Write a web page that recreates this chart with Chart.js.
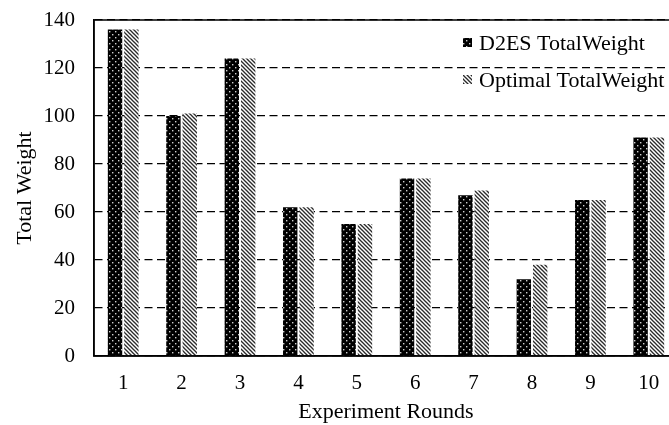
<!DOCTYPE html>
<html>
<head>
<meta charset="utf-8">
<script src="https://cdn.jsdelivr.net/npm/chart.js@4"></script>
<style>
    html, body { margin: 0; padding: 0; background: #fff; overflow: hidden; }
    #wrap { width: 669px; height: 425px; overflow: hidden; }
</style>
</head>
<body>
<div id="wrap"><canvas id="barChart" width="690" height="425"></canvas></div>
<script>
// data
const rounds = ['1', '2', '3', '4', '5', '6', '7', '8', '9', '10'];
const d2esWeight = [136, 100, 124, 62, 55, 74, 67, 32, 65, 91];
const optimalWeight = [136, 101, 124, 62, 55, 74, 69, 38, 65, 91];
const seriesNames = ['D2ES TotalWeight', 'Optimal TotalWeight'];
const yTicks = [0, 20, 40, 60, 80, 100, 120, 140];

const serif = "'Liberation Serif', 'Times New Roman', serif";

// black with white dots
function dotPattern() {
    const c = document.createElement('canvas');
    c.width = 6; c.height = 6;
    const g = c.getContext('2d');
    g.fillStyle = '#000';
    g.fillRect(0, 0, 6, 6);
    g.fillStyle = '#d0d0d0';
    g.fillRect(1, 1, 1.4, 1.4);
    g.fillRect(4, 4, 1.4, 1.4);
    return g.createPattern(c, 'repeat');
}

// white with diagonal lines
function hatchPattern() {
    const c = document.createElement('canvas');
    c.width = 4; c.height = 4;
    const g = c.getContext('2d');
    g.fillStyle = '#fff';
    g.fillRect(0, 0, 4, 4);
    g.strokeStyle = '#2a2a2a';
    g.lineWidth = 1.3;
    [-4, 0, 4].forEach((o) => {
        g.beginPath();
        g.moveTo(o - 1, -1);
        g.lineTo(o + 5, 5);
        g.stroke();
    });
    return g.createPattern(c, 'repeat');
}

const dots = dotPattern();
const hatch = hatchPattern();

// frame + legend drawn over the plot
const framePlugin = {
    id: 'frameAndLegend',
    afterDraw(chart) {
        const { ctx, chartArea } = chart;
        ctx.save();
        ctx.strokeStyle = '#000';
        ctx.lineWidth = 1.5;
        ctx.strokeRect(chartArea.left, chartArea.top, chartArea.right - chartArea.left, chartArea.bottom - chartArea.top);

        const fills = [dots, hatch];
        const rowY = [43, 80];
        ctx.font = '22px ' + serif;
        ctx.textBaseline = 'middle';
        seriesNames.forEach((name, i) => {
            ctx.fillStyle = fills[i];
            ctx.fillRect(463, rowY[i] - 5, 9, 9);
            ctx.fillStyle = '#000';
            ctx.fillText(name, 479, rowY[i] + 1);
        });
        ctx.restore();
    },
};

const barChart = new Chart(document.getElementById('barChart'), {
    type: 'bar',
    data: {
        labels: rounds,
        datasets: [
            {
                label: seriesNames[0],
                data: d2esWeight,
                backgroundColor: dots,
                borderWidth: 0,
                categoryPercentage: 0.56,
                barPercentage: 0.88,
            },
            {
                label: seriesNames[1],
                data: optimalWeight,
                backgroundColor: hatch,
                borderWidth: 0,
                categoryPercentage: 0.56,
                barPercentage: 0.88,
            },
        ],
    },
    options: {
        responsive: false,
        animation: false,
        events: [],
        layout: { padding: { left: 0, right: 12, top: 20, bottom: 0 } },
        plugins: {
            legend: { display: false },
            tooltip: { enabled: false },
        },
        scales: {
            x: {
                grid: { display: false, drawTicks: false },
                border: { display: true, color: '#000', width: 1.5 },
                ticks: { color: '#000', font: { family: serif, size: 21 }, padding: 15 },
                title: {
                    display: true,
                    text: 'Experiment Rounds',
                    color: '#000',
                    font: { family: serif, size: 22 },
                    padding: { top: 0, bottom: 0 },
                },
                afterFit(scale) { scale.height = 69; },
            },
            y: {
                min: 0,
                max: 140,
                afterBuildTicks(scale) { scale.ticks = yTicks.map((v) => ({ value: v })); },
                grid: { color: '#000', lineWidth: 1.3, drawTicks: false },
                border: { display: true, color: '#000', width: 1.5, dash: [8, 4.5] },
                ticks: { color: '#000', font: { family: serif, size: 21 }, padding: 19 },
                title: {
                    display: true,
                    text: 'Total Weight',
                    color: '#000',
                    font: { family: serif, size: 22 },
                    padding: { top: 12, bottom: 0 },
                },
                afterFit(scale) {
                    scale.width = 94;
                    // tick padding otherwise pushes the plot top down
                    scale.paddingTop = 0;
                    scale.paddingBottom = 0;
                },
            },
        },
    },
    plugins: [framePlugin],
});
</script>
</body>
</html>
